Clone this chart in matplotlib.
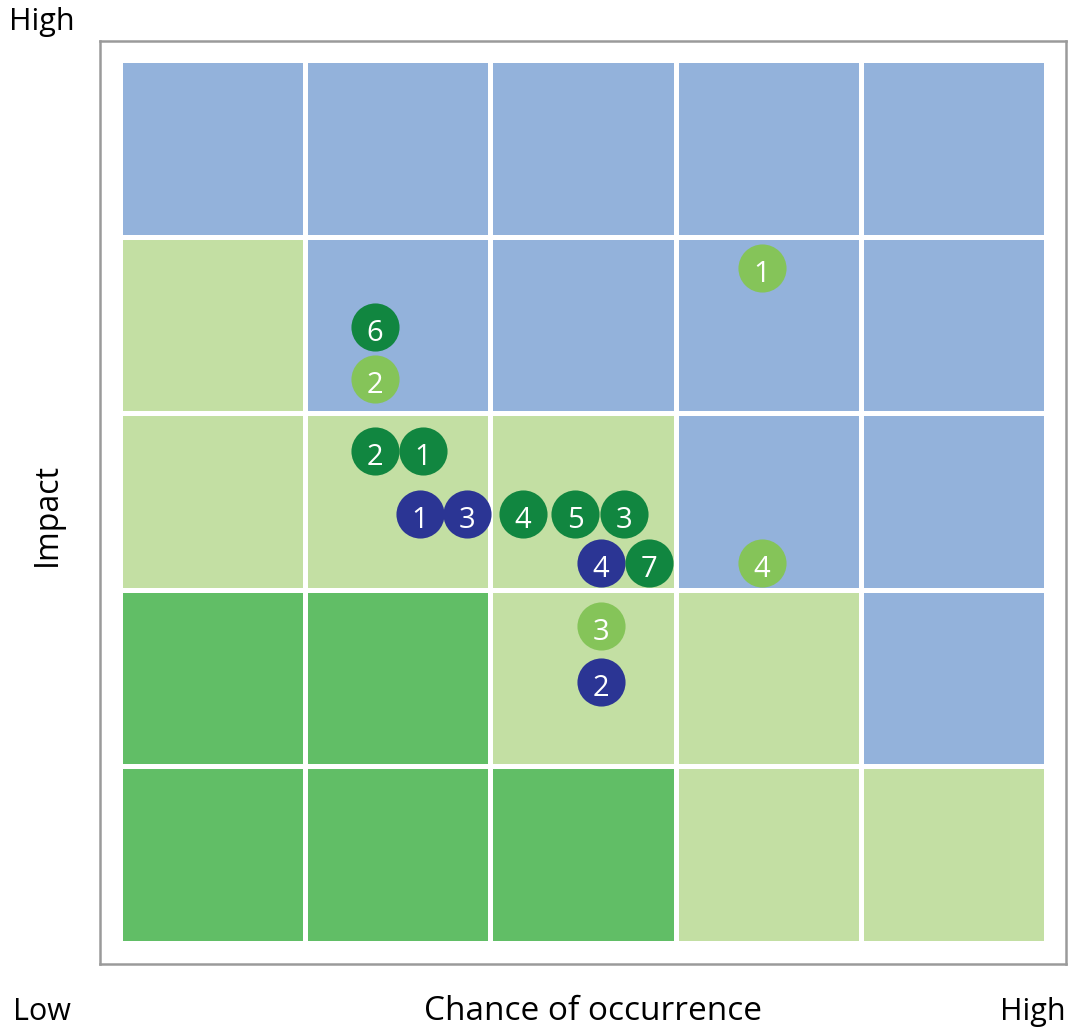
import numpy as np
import matplotlib
matplotlib.use("Agg")
import matplotlib.pyplot as plt

plt.rcParams['font.family'] = ['Open Sans', 'DejaVu Sans']

# cell colour codes, row 0 = bottom (low impact), col 0 = left (low chance)
grid_codes = [
    ["G", "G", "G", "L", "L"],
    ["G", "G", "L", "L", "B"],
    ["L", "L", "L", "B", "B"],
    ["L", "B", "B", "B", "B"],
    ["B", "B", "B", "B", "B"],
]
cell_colors = {"B": "#93B2DB", "L": "#C3DFA3", "G": "#61BE66"}

# risk markers: x = chance, y = impact (grid units), label, group
mark_x = [3.464, 1.374, 1.374, 1.374, 1.633, 1.617, 1.871, 2.173, 2.454, 2.719,
          2.595, 2.854, 3.464, 2.595, 2.595]
mark_y = [3.825, 3.491, 3.197, 2.789, 2.789, 2.432, 2.432, 2.432, 2.432, 2.432,
          2.155, 2.155, 2.155, 1.798, 1.481]
mark_lbl = ["1", "6", "2", "2", "1", "1", "3", "4", "5", "3", "4", "7", "4", "3", "2"]
mark_grp = ["lg", "dg", "lg", "dg", "dg", "nv", "nv", "dg", "dg", "dg", "nv", "dg",
            "lg", "lg", "nv"]
grp_colors = {"lg": "#85C459", "dg": "#118640", "nv": "#2B3594"}

W, H = 1070, 1032
fig = plt.figure(figsize=(W / 100, H / 100), dpi=100)
# axes = the grey frame
fl, fr, ft, fb = 100, 1066, 41, 964
ax = fig.add_axes([fl / W, 1 - fb / H, (fr - fl) / W, (fb - ft) / H])

# grid mapping: cells start at px 120.5 (x) and end at 943.5 (y bottom)
x0, xs = 120.5, 185.2
y0, ys = 943.5, 176.6
ax.set_xlim((fl - x0) / xs, (fr - x0) / xs)
ax.set_ylim((y0 - fb) / ys, (y0 - ft) / ys)

for r, row in enumerate(grid_codes):
    for c, code in enumerate(row):
        ax.bar(c + 0.5, 0.972, width=0.972, bottom=r + 0.014,
               color=cell_colors[code], linewidth=0)

for x, y, t, g in zip(mark_x, mark_y, mark_lbl, mark_grp):
    ax.scatter(x, y, s=1200, color=grp_colors[g], linewidths=0, zorder=3)
    ax.text(x, y - 0.035, t, color="white", fontsize=21, ha="center", va="center",
            zorder=4)

ax.set_xticks([])
ax.set_yticks([])
for sp in ax.spines.values():
    sp.set_color("#9A9A9A")
    sp.set_linewidth(1.8)

fs = 22
fig.text(42 / W, 1 - 22 / H, "High", fontsize=fs, ha="center", va="center")
fig.text(47 / W, 1 - 515 / H, "Impact", fontsize=23, ha="center", va="center",
         rotation=90)
fig.text(42 / W, 1 - 1012 / H, "Low", fontsize=fs, ha="center", va="center")
fig.text(593 / W, 1 - 1012 / H, "Chance of occurrence", fontsize=24, ha="center",
         va="center")
fig.text(1033 / W, 1 - 1012 / H, "High", fontsize=fs, ha="center", va="center")

fig.savefig("out.png", dpi=100)
